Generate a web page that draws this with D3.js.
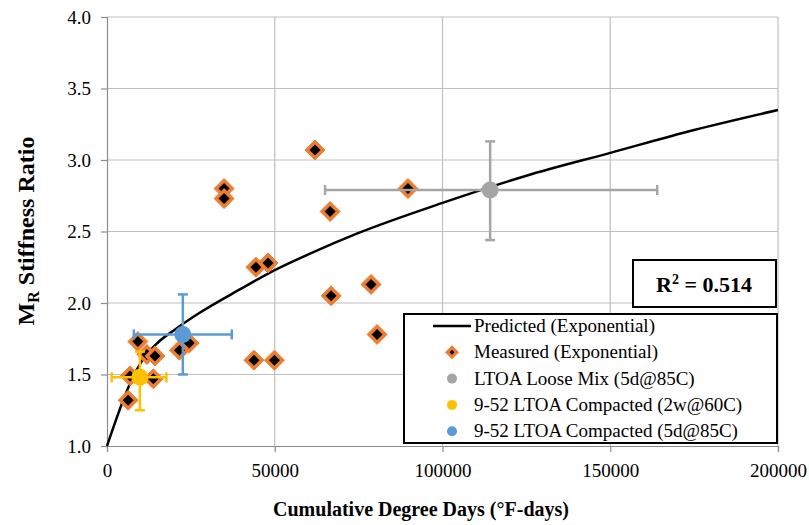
<!DOCTYPE html>
<html><head><meta charset="utf-8">
<script src="https://cdn.jsdelivr.net/npm/d3@7"></script>
<style>body{margin:0;background:#fff}svg{display:block}svg text{font-family:"Liberation Serif","DejaVu Serif",serif !important}</style>
</head><body>
<svg id="c" width="809" height="525" font-family="Liberation Serif, DejaVu Serif, serif"></svg>
<script>
// Data
const xTicks = [0, 50000, 100000, 150000, 200000];
const yTicks = [1.0, 1.5, 2.0, 2.5, 3.0, 3.5, 4.0];

// Predicted (Exponential) fit curve
const predictedX = [0, 2500, 5000, 7500, 10000, 15000, 20000, 27500, 40000, 50000, 60000, 75000, 100000, 125000, 150000, 175000, 200000];
const predictedY = [1.0, 1.17, 1.33, 1.47, 1.58, 1.72, 1.81, 1.93, 2.10, 2.23, 2.34, 2.49, 2.70, 2.89, 3.05, 3.21, 3.35];

// Measured (Exponential)
const measuredX = [6300, 6900, 9200, 11900, 14300, 13800, 21600, 24500, 43800, 49900, 34900, 34900, 62000, 66500, 44400, 48000, 78700, 66800, 80500, 89700];
const measuredY = [1.32, 1.49, 1.73, 1.64, 1.63, 1.47, 1.67, 1.72, 1.60, 1.60, 2.80, 2.73, 3.07, 2.64, 2.25, 2.28, 2.13, 2.05, 1.78, 2.80];

// Averages with error bars
const seriesNames = ["LTOA Loose Mix (5d@85C)", "9-52 LTOA Compacted (2w@60C)", "9-52 LTOA Compacted (5d@85C)"];
const seriesX = [114200, 9800, 22600];
const seriesY = [2.79, 1.48, 1.78];
const seriesXLow = [65000, 1400, 8000];
const seriesXHigh = [164000, 17700, 37200];
const seriesYLow = [2.44, 1.25, 1.50];
const seriesYHigh = [3.13, 1.66, 2.06];
const seriesColors = ["#A5A5A5", "#FFC000", "#5B9BD5"];

const legendLabels = ["Predicted (Exponential)", "Measured (Exponential)"].concat(seriesNames);
const rSquared = "0.514";

const FONT = '"Liberation Serif", "DejaVu Serif", serif';
const svg = d3.select("#c");
const L = 107, T = 17, R = 778, B = 446;
const x = d3.scaleLinear().domain([0, 200000]).range([L, R]);
const y = d3.scaleLinear().domain([1, 4]).range([B, T]);
const grid = "#bfbfbf";

// gridlines
svg.append("g").selectAll("line").data(yTicks.slice(1)).join("line")
  .attr("x1", L).attr("x2", R).attr("y1", d => y(d)).attr("y2", d => y(d))
  .attr("stroke", grid).attr("stroke-width", 1.2);
svg.append("g").selectAll("line").data(xTicks.slice(1)).join("line")
  .attr("y1", T).attr("y2", B).attr("x1", d => x(d)).attr("x2", d => x(d))
  .attr("stroke", grid).attr("stroke-width", 1.2);

// axes
const xAxis = svg.append("g").attr("transform", `translate(0,${B})`)
  .call(d3.axisBottom(x).tickValues(xTicks).tickFormat(d3.format("d")).tickSize(6).tickPadding(12));
const yAxis = svg.append("g").attr("transform", `translate(${L},0)`)
  .call(d3.axisLeft(y).tickValues(yTicks).tickFormat(d3.format(".1f")).tickSize(6).tickPadding(10));
[xAxis, yAxis].forEach(a => {
  a.attr("font-family", FONT);
  a.selectAll("path,line").attr("stroke", "#8c8c8c").attr("stroke-width", 1.2);
  a.selectAll("text").attr("font-size", 19).attr("fill", "#000").attr("font-family", FONT);
});

// axis titles
svg.append("text").attr("x", 421).attr("y", 516).attr("text-anchor", "middle").attr("font-family", FONT)
  .attr("font-size", 20).attr("font-weight", "bold").text("Cumulative Degree Days (°F-days)");
const yt = svg.append("text").attr("transform", "translate(34,231) rotate(-90)").attr("font-family", FONT)
  .attr("text-anchor", "middle").attr("font-size", 24).attr("font-weight", "bold");
yt.append("tspan").text("M");
yt.append("tspan").attr("font-size", 16).attr("dy", 5).text("R");
yt.append("tspan").attr("dy", -5).text(" Stiffness Ratio");

// predicted curve
const curvePts = predictedX.map((d, i) => [d, predictedY[i]]);
svg.append("path").datum(curvePts)
  .attr("d", d3.line().x(d => x(d[0])).y(d => y(d[1])).curve(d3.curveMonotoneX))
  .attr("fill", "none").attr("stroke", "#000").attr("stroke-width", 2.5);

// measured diamonds
const diamond = (cx, cy, r) => `M${cx},${cy - r}L${cx + r},${cy}L${cx},${cy + r}L${cx - r},${cy}Z`;
const mg = svg.append("g");
measuredX.forEach((d, i) => {
  const cx = x(d), cy = y(measuredY[i]);
  mg.append("path").attr("d", diamond(cx, cy, 10)).attr("fill", "#ED7D31")
    .attr("stroke", "#ED7D31").attr("stroke-width", 1).attr("stroke-linejoin", "round");
  mg.append("path").attr("d", diamond(cx, cy, 5.5)).attr("fill", "#000");
});

// error bars and average markers
const eg = svg.append("g");
seriesX.forEach((d, i) => {
  const c = seriesColors[i], cx = x(d), cy = y(seriesY[i]), cap = 5;
  const seg = (x1, y1, x2, y2) => eg.append("line").attr("x1", x1).attr("y1", y1).attr("x2", x2).attr("y2", y2)
    .attr("stroke", c).attr("stroke-width", 2.5);
  seg(x(seriesXLow[i]), cy, x(seriesXHigh[i]), cy);
  seg(x(seriesXLow[i]), cy - cap, x(seriesXLow[i]), cy + cap);
  seg(x(seriesXHigh[i]), cy - cap, x(seriesXHigh[i]), cy + cap);
  seg(cx, y(seriesYLow[i]), cx, y(seriesYHigh[i]));
  seg(cx - cap, y(seriesYLow[i]), cx + cap, y(seriesYLow[i]));
  seg(cx - cap, y(seriesYHigh[i]), cx + cap, y(seriesYHigh[i]));
  eg.append("circle").attr("cx", cx).attr("cy", cy).attr("r", 8.5).attr("fill", c);
});

// R² box
svg.append("rect").attr("x", 633).attr("y", 260).attr("width", 143).attr("height", 47)
  .attr("fill", "#fff").attr("stroke", "#000").attr("stroke-width", 2);
const rt = svg.append("text").attr("x", 704).attr("y", 292).attr("text-anchor", "middle").attr("font-family", FONT)
  .attr("font-size", 22).attr("font-weight", "bold");
rt.append("tspan").text("R");
rt.append("tspan").attr("font-size", 14).attr("dy", -8).text("2");
rt.append("tspan").attr("dy", 8).text(" = " + rSquared);

// legend
const lg = svg.append("g");
lg.append("rect").attr("x", 404).attr("y", 314).attr("width", 373).attr("height", 129)
  .attr("fill", "#fff").attr("stroke", "#000").attr("stroke-width", 2);
const rowY = i => 326 + i * 26.3;
legendLabels.forEach((t, i) => {
  const cy = rowY(i);
  if (i === 0) {
    lg.append("line").attr("x1", 433).attr("x2", 471).attr("y1", cy).attr("y2", cy)
      .attr("stroke", "#000").attr("stroke-width", 2.5);
  } else if (i === 1) {
    lg.append("path").attr("d", diamond(452, cy, 7)).attr("fill", "#ED7D31");
    lg.append("path").attr("d", diamond(452, cy, 2.5)).attr("fill", "#000");
  } else {
    lg.append("circle").attr("cx", 452).attr("cy", cy).attr("r", 5).attr("fill", seriesColors[i - 2]);
  }
  lg.append("text").attr("x", 474).attr("y", cy + 6).attr("font-size", 19).attr("font-family", FONT).text(t);
});
</script>
</body></html>
